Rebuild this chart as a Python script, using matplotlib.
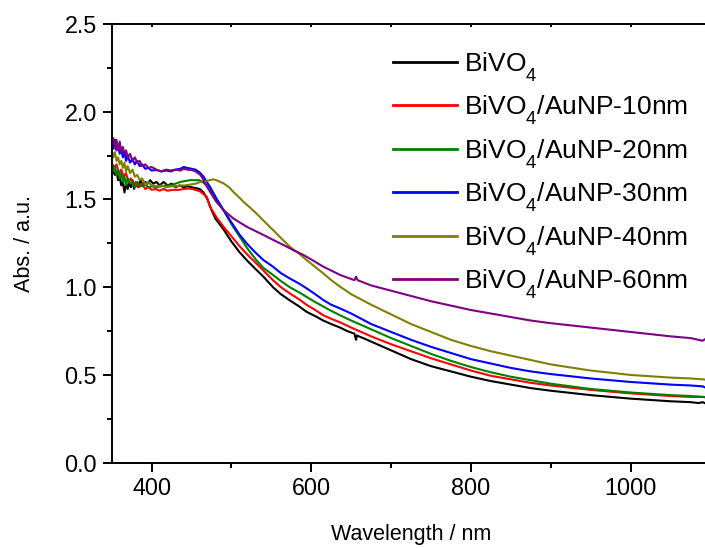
import matplotlib
matplotlib.use("Agg")
import matplotlib.pyplot as plt
from matplotlib.ticker import MultipleLocator, FormatStrFormatter
import matplotlib._mathtext as _mt

plt.rcParams['font.family'] = ['Liberation Sans', 'DejaVu Sans']
plt.rcParams['mathtext.fontset'] = 'custom'
plt.rcParams['mathtext.rm'] = 'Liberation Sans'
plt.rcParams['mathtext.it'] = 'Liberation Sans:italic'
plt.rcParams['mathtext.bf'] = 'Liberation Sans:bold'
try:
    _mt.FontConstantsBase.subdrop = 0.75
    _mt.FontConstantsBase.sub1 = 0.75
except Exception:
    pass

labels = ['BiVO$_4$', 'BiVO$_4$/AuNP-10nm', 'BiVO$_4$/AuNP-20nm',
          'BiVO$_4$/AuNP-30nm', 'BiVO$_4$/AuNP-40nm', 'BiVO$_4$/AuNP-60nm']
colors = ['#000000', '#ff0000', '#008000', '#0000ff', '#808000', '#800080']

wl_black = [350, 352, 354, 356, 358, 360, 362, 364, 366, 368, 370, 372, 374, 376, 378, 380, 383, 386, 389, 392,
            395, 398, 402, 406, 410, 415, 420, 425, 430, 435, 440, 445, 450, 455, 460, 465, 470, 475, 480, 485,
            490, 500, 510, 520, 531, 540, 552, 562, 573, 585, 594, 605, 615, 625, 636, 645, 654, 656, 657, 665,
            680, 700, 725, 750, 775, 800, 825, 850, 875, 900, 950, 1000, 1050, 1075, 1085, 1090, 1095, 1100]
abs_black = [1.70, 1.66, 1.64, 1.66, 1.61, 1.63, 1.58, 1.60, 1.54, 1.59, 1.56, 1.60, 1.57, 1.61, 1.56, 1.59, 1.57, 1.61, 1.58, 1.60,
             1.59, 1.61, 1.59, 1.60, 1.58, 1.60, 1.58, 1.59, 1.57, 1.58, 1.57, 1.575, 1.57, 1.565, 1.56, 1.54, 1.50, 1.44, 1.39, 1.36,
             1.33, 1.26, 1.20, 1.15, 1.10, 1.06, 1.00, 0.96, 0.925, 0.89, 0.86, 0.835, 0.81, 0.79, 0.77, 0.75, 0.735, 0.70, 0.725, 0.71,
             0.68, 0.64, 0.59, 0.55, 0.52, 0.49, 0.465, 0.445, 0.425, 0.41, 0.385, 0.365, 0.35, 0.345, 0.34, 0.345, 0.335, 0.34]

wl_red = [350, 353, 356, 359, 362, 365, 368, 371, 374, 377, 380, 384, 388, 392, 396, 400, 405, 410, 415, 420,
          427, 435, 440, 448, 455, 461, 465, 469, 473, 477, 481, 490, 500, 510, 520, 531, 540, 552, 562, 573,
          585, 594, 605, 615, 625, 636, 650, 675, 700, 725, 750, 775, 800, 825, 850, 875, 900, 950, 1000, 1050,
          1075, 1090, 1100]
abs_red = [1.71, 1.68, 1.70, 1.65, 1.67, 1.63, 1.65, 1.60, 1.62, 1.58, 1.60, 1.57, 1.59, 1.56, 1.57, 1.555, 1.56, 1.55, 1.56, 1.55,
           1.555, 1.555, 1.56, 1.563, 1.555, 1.545, 1.53, 1.516, 1.46, 1.43, 1.40, 1.345, 1.29, 1.235, 1.185, 1.136, 1.095, 1.04, 1.00, 0.965,
           0.93, 0.90, 0.87, 0.84, 0.82, 0.80, 0.77, 0.72, 0.675, 0.635, 0.595, 0.56, 0.525, 0.495, 0.475, 0.455, 0.44, 0.415, 0.395, 0.38,
           0.375, 0.375, 0.37]

wl_green = [350, 352, 354, 356, 358, 360, 362, 364, 366, 368, 370, 373, 376, 379, 382, 385, 388, 392, 396, 400,
            406, 412, 418, 424, 430, 436, 442, 448, 455, 460, 465, 469, 474, 478, 484, 490, 496, 502, 510, 520,
            531, 540, 552, 562, 573, 585, 594, 605, 615, 625, 636, 650, 675, 700, 725, 750, 775, 800, 825, 850,
            875, 900, 950, 1000, 1050, 1075, 1090, 1100]
abs_green = [1.70, 1.66, 1.69, 1.64, 1.67, 1.62, 1.65, 1.60, 1.63, 1.58, 1.62, 1.59, 1.60, 1.57, 1.60, 1.58, 1.575, 1.585, 1.57, 1.575,
             1.57, 1.575, 1.58, 1.58, 1.59, 1.60, 1.605, 1.61, 1.61, 1.61, 1.595, 1.58, 1.55, 1.516, 1.48, 1.44, 1.39, 1.345, 1.29, 1.22,
             1.155, 1.11, 1.07, 1.035, 1.00, 0.97, 0.945, 0.915, 0.89, 0.865, 0.84, 0.81, 0.76, 0.71, 0.665, 0.62, 0.58, 0.545, 0.515, 0.49,
             0.47, 0.45, 0.42, 0.40, 0.385, 0.38, 0.375, 0.37]

wl_blue = [350, 352, 354, 356, 358, 360, 362, 364, 366, 368, 370, 373, 376, 379, 382, 385, 388, 392, 396, 400,
           406, 412, 418, 424, 430, 436, 440, 445, 450, 455, 460, 465, 469, 473, 477, 481, 490, 498, 510, 520,
           531, 540, 552, 562, 573, 585, 594, 605, 615, 625, 636, 650, 675, 700, 725, 750, 775, 800, 825, 850,
           875, 900, 950, 1000, 1050, 1075, 1090, 1095, 1100]
abs_blue = [1.83, 1.79, 1.84, 1.78, 1.81, 1.76, 1.79, 1.74, 1.77, 1.72, 1.75, 1.71, 1.73, 1.70, 1.72, 1.69, 1.70, 1.675, 1.68, 1.665,
            1.668, 1.66, 1.665, 1.66, 1.67, 1.675, 1.685, 1.68, 1.675, 1.67, 1.655, 1.63, 1.60, 1.573, 1.54, 1.507, 1.44, 1.383, 1.30, 1.245,
            1.193, 1.155, 1.117, 1.08, 1.05, 1.02, 0.994, 0.96, 0.927, 0.90, 0.879, 0.85, 0.79, 0.745, 0.70, 0.66, 0.625, 0.59, 0.565, 0.54,
            0.52, 0.505, 0.48, 0.46, 0.445, 0.44, 0.435, 0.425, 0.43]

wl_olive = [350, 352, 354, 356, 358, 360, 362, 364, 366, 368, 370, 373, 376, 379, 382, 385, 388, 392, 396, 400,
            406, 412, 418, 424, 430, 436, 442, 448, 455, 461, 467, 473, 477, 481, 486, 490, 497, 502, 510, 515,
            523, 531, 540, 552, 562, 573, 585, 594, 605, 615, 625, 636, 650, 675, 700, 725, 750, 775, 800, 825,
            850, 875, 900, 950, 1000, 1050, 1075, 1090, 1100]
abs_olive = [1.78, 1.74, 1.77, 1.72, 1.74, 1.70, 1.72, 1.68, 1.71, 1.66, 1.69, 1.65, 1.67, 1.63, 1.64, 1.61, 1.62, 1.585, 1.60, 1.58,
             1.575, 1.58, 1.57, 1.575, 1.575, 1.58, 1.58, 1.585, 1.59, 1.60, 1.605, 1.61, 1.615, 1.61, 1.60, 1.592, 1.57, 1.545, 1.51, 1.487,
             1.455, 1.421, 1.38, 1.326, 1.28, 1.231, 1.19, 1.155, 1.115, 1.079, 1.04, 1.003, 0.96, 0.90, 0.845, 0.79, 0.745, 0.70, 0.665, 0.635,
             0.61, 0.585, 0.56, 0.525, 0.50, 0.485, 0.48, 0.475, 0.47]

wl_purple = [350, 352, 354, 356, 358, 360, 362, 364, 366, 368, 370, 373, 376, 379, 382, 385, 388, 392, 396, 400,
             406, 412, 418, 424, 430, 436, 440, 445, 450, 455, 461, 464, 467, 473, 481, 490, 502, 510, 519, 530,
             540, 552, 565, 578, 590, 603, 615, 625, 636, 648, 654, 656, 658, 675, 700, 725, 750, 775, 800, 825,
             850, 875, 900, 950, 1000, 1050, 1075, 1085, 1090, 1095, 1100]
abs_purple = [1.82, 1.85, 1.79, 1.84, 1.78, 1.83, 1.77, 1.80, 1.76, 1.78, 1.74, 1.76, 1.72, 1.74, 1.71, 1.72, 1.69, 1.70, 1.68, 1.685,
              1.67, 1.66, 1.67, 1.665, 1.67, 1.665, 1.675, 1.67, 1.668, 1.66, 1.64, 1.62, 1.59, 1.545, 1.487, 1.44, 1.393, 1.37, 1.345, 1.32,
              1.298, 1.27, 1.241, 1.21, 1.184, 1.15, 1.117, 1.095, 1.07, 1.05, 1.04, 1.06, 1.04, 1.01, 0.98, 0.95, 0.92, 0.895, 0.87, 0.85,
              0.83, 0.81, 0.795, 0.77, 0.745, 0.72, 0.71, 0.70, 0.695, 0.71, 0.70]

series = [(wl_black, abs_black), (wl_red, abs_red), (wl_green, abs_green),
          (wl_blue, abs_blue), (wl_olive, abs_olive), (wl_purple, abs_purple)]

fig = plt.figure(figsize=(7.05, 5.48), dpi=100)
ax = fig.add_axes([111.7 / 705, 85.3 / 548, (710.6 - 111.7) / 705, (462.7 - 24) / 548])

for (wl, ab), lab, col in zip(series, labels, colors):
    ax.plot(wl, ab, color=col, lw=1.5, label=lab)

ax.set_xlim(350, 1100)
ax.set_ylim(0.0, 2.5)
ax.xaxis.set_major_locator(MultipleLocator(200))
ax.xaxis.set_minor_locator(MultipleLocator(100))
ax.yaxis.set_major_locator(MultipleLocator(0.5))
ax.yaxis.set_minor_locator(MultipleLocator(0.25))
ax.yaxis.set_major_formatter(FormatStrFormatter('%.1f'))

for s in ax.spines.values():
    s.set_linewidth(1.4)
ax.tick_params(which='major', direction='out', length=6.5, width=1.4, labelsize=16.8, pad=4)
ax.tick_params(which='minor', direction='out', length=3.8, width=1.4)
ax.tick_params(which='both', right=False)
ax.tick_params(axis='x', which='both', top=True, labeltop=False)
# top-axis ticks are short and point inward
for t in ax.xaxis.get_major_ticks() + ax.xaxis.get_minor_ticks():
    t.tick2line.set_marker(3)
    t.tick2line.set_markersize(2.5)

ax.set_xlabel('Wavelength / nm', fontsize=15.5, labelpad=17)
ax.set_ylabel('Abs. / a.u.', fontsize=15.5, labelpad=21)

leg = ax.legend(loc='upper left', bbox_to_anchor=(393 / 705, 1 - 50 / 548),
                bbox_transform=fig.transFigure, frameon=False, fontsize=19,
                handlelength=2.42, handletextpad=0.27, labelspacing=0.38,
                borderpad=0, borderaxespad=0)
for h in leg.get_lines():
    h.set_linewidth(2.0)

fig.savefig('out.png', dpi=100)
